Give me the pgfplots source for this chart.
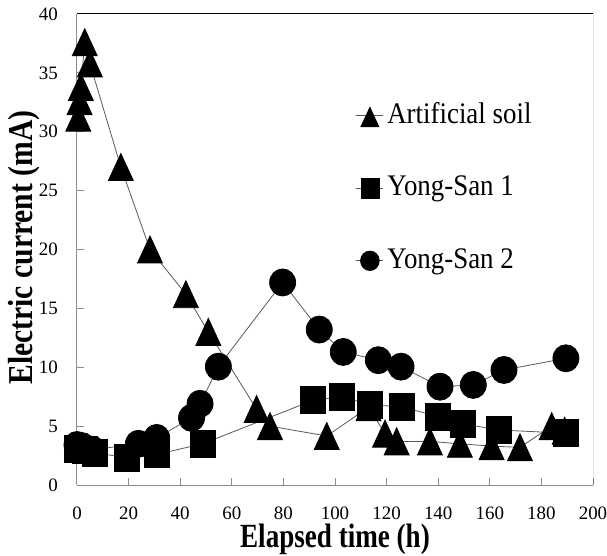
\documentclass[border=0pt]{standalone}
\usepackage{fontspec}
\setmainfont{Liberation Serif}
\usepackage{graphicx}
\usepackage{pgfplots}
\pgfplotsset{compat=1.18}

\begin{document}
\begin{tikzpicture}
\begin{axis}[
    scale only axis,
    width=516bp, height=471bp,
    xmin=0, xmax=200, ymin=0, ymax=40,
    xtick={0,20,...,200},
    ytick={0,5,...,40},
    axis lines*=left,
    axis line style={draw=black!45, line width=1bp},
    tick style={draw=black!45, line width=1bp},
    major tick length=7bp,
    tick align=inside,
    /pgf/number format/assume math mode=true,
    ticklabel style={font=\fontsize{19}{19}\selectfont},
    xticklabel style={anchor=base, inner sep=0pt, yshift=-34bp},
    yticklabel style={anchor=east, inner sep=0pt, xshift=-19bp},
    xlabel={\scalebox{0.8}[1]{\fontsize{34}{34}\selectfont\bfseries Elapsed time (h)}},
    xlabel style={at={(rel axis cs:0.5,0)}, anchor=base, inner sep=0pt, yshift=-62bp},
    ylabel={\scalebox{0.85}[1]{\fontsize{35}{35}\selectfont\bfseries Electric current (mA)}},
    ylabel style={at={(rel axis cs:-0.0853,0.504)}, anchor=base, rotate=0, inner sep=0pt},
    legend style={at={(rel axis cs:0.5407,0.8125)}, anchor=north west,
        draw=none, fill=none, inner sep=0pt, outer sep=0pt,
        row sep=45.5bp, column sep=3.5bp,
        font=\fontsize{30}{30}\selectfont,
        nodes={inner sep=0pt, text height=21bp, text depth=6bp}},
    legend cell align=left,
    legend image code/.code={
        \draw[mark repeat=2, mark phase=2, #1, every mark/.append style={scale=0.72}]
            plot coordinates {(0bp,0bp) (13.5bp,0bp) (27bp,0bp)};
    },
]
\addplot[draw=black!65, line width=0.8bp, mark=triangle*, mark size=14.4bp,
    mark options={yshift=-4.5bp, yscale=1.25, fill=black, draw=black}]
coordinates {
    (0.5,31.2) (1,32.6) (1.5,33.8) (3,37.6) (5,35.8) (17,27.0) (28.3,20.0)
    (42.2,16.2) (50.9,13.0) (69.6,6.45) (74.8,5.0) (96.8,4.16) (113,6.6)
    (119.4,4.36) (123.9,3.7) (136.8,3.7) (148.4,3.5) (160.7,3.3) (171.7,3.2)
    (184,5.0) (189,4.6)
};
\addlegendentry{\scalebox{0.9}[1]{Artificial soil}}
\addplot[draw=black!65, line width=0.8bp, mark=square*, mark size=12.5bp,
    mark options={yscale=1.08, fill=black, draw=black}]
coordinates {
    (0,3.1) (3,3.0) (7,2.75) (19.3,2.3) (30.9,2.6) (48.7,3.5) (91.6,7.2)
    (102.6,7.5) (113.6,6.8) (125.9,6.65) (140,5.8) (149.5,5.2) (163.6,4.67)
    (189.5,4.4)
};
\addlegendentry{\scalebox{0.9}[1]{Yong-San 1}}
\addplot[draw=black!65, line width=0.8bp, mark=*, mark size=13bp,
    mark options={yscale=1.04, fill=black, draw=black}]
coordinates {
    (0,3.4) (2,3.3) (6,3.0) (23.8,3.5) (30.9,4.0) (44.4,5.7) (47.7,6.9)
    (54.8,10.05) (79.7,17.2) (93.9,13.2) (103.2,11.3) (116.8,10.6)
    (125.6,10.05) (140.7,8.35) (153.6,8.5) (165.5,9.77) (189.5,10.76)
};
\addlegendentry{\scalebox{0.9}[1]{Yong-San 2}}
\draw[black, line width=1bp] (rel axis cs:0,1) -- (rel axis cs:1,1) -- (rel axis cs:1,0);
\end{axis}
\pgfresetboundingbox
\path (-77bp,-71bp) rectangle (530bp,485bp);
\end{tikzpicture}
\end{document}
